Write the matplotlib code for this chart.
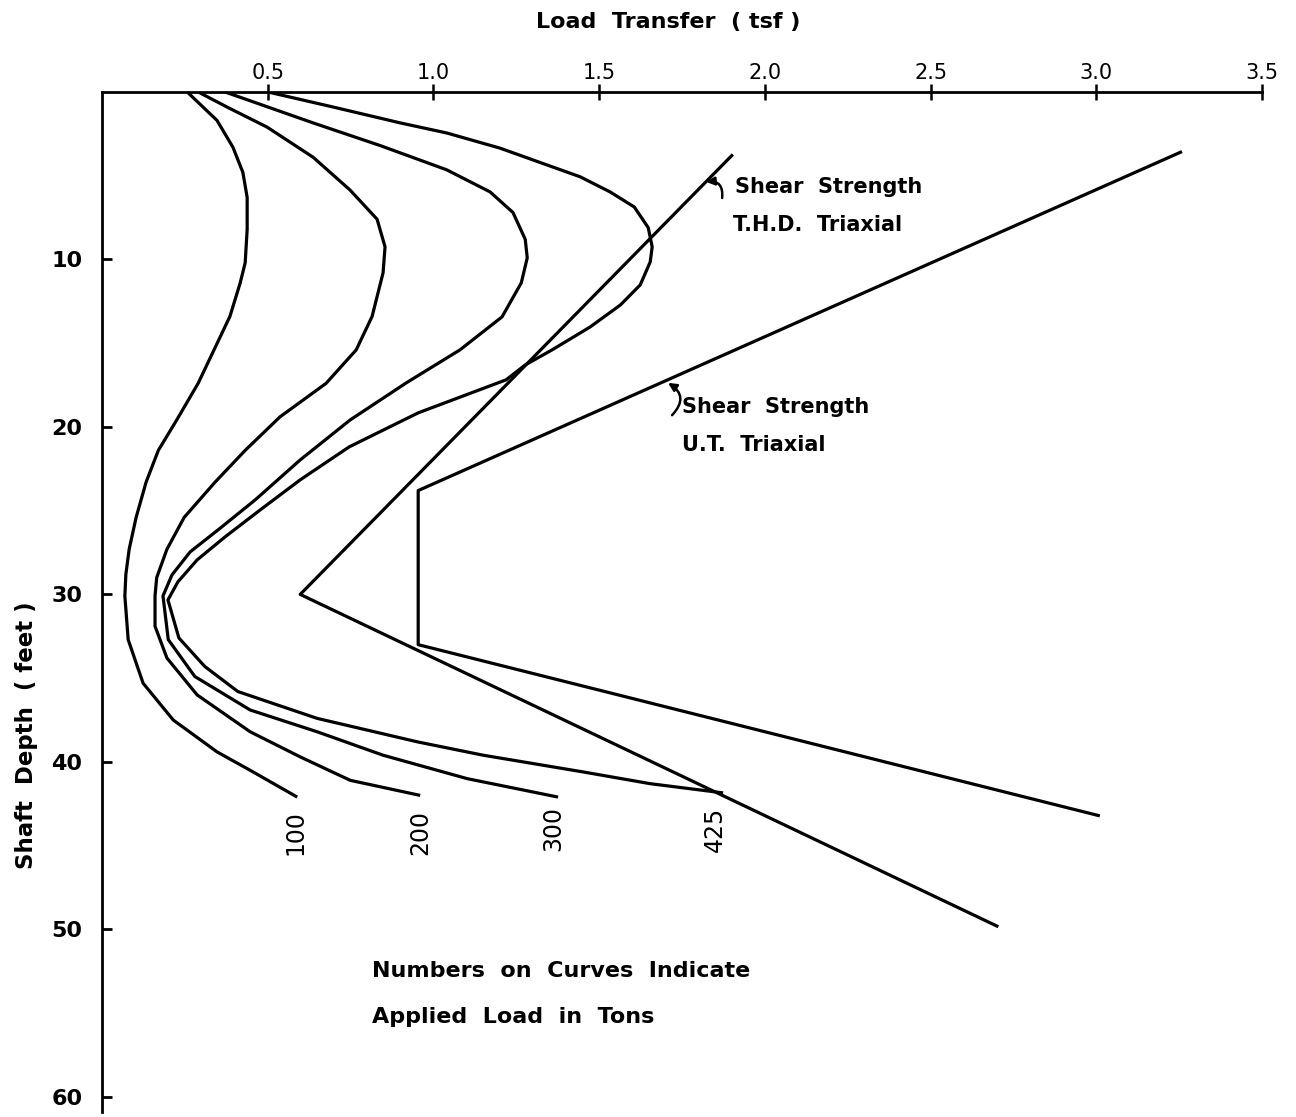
import matplotlib
matplotlib.use("Agg")
import matplotlib.pyplot as plt

# load transfer (tsf) vs shaft depth (ft) for each applied load
t_100 = [0.257, 0.347, 0.395, 0.425, 0.438, 0.438, 0.432, 0.417, 0.386, 0.29, 0.225, 0.17,
         0.133, 0.103, 0.082, 0.072, 0.069, 0.079, 0.124, 0.215, 0.347, 0.447, 0.589]
d_100 = [0, 1.7, 3.3, 4.8, 6.3, 8.2, 10.2, 11.4, 13.4, 17.4, 19.6, 21.4,
         23.3, 25.4, 27.3, 28.8, 30.1, 32.7, 35.3, 37.5, 39.4, 40.5, 42.1]

t_200 = [0.29, 0.377, 0.498, 0.637, 0.748, 0.83, 0.854, 0.848, 0.815, 0.767, 0.676, 0.537,
         0.432, 0.341, 0.248, 0.196, 0.165, 0.16, 0.16, 0.196, 0.287, 0.447, 0.598, 0.749, 0.96]
d_200 = [0, 0.9, 2.1, 3.9, 5.85, 7.6, 9.25, 10.8, 13.4, 15.4, 17.4, 19.4,
         21.4, 23.3, 25.4, 27.3, 29.0, 30.1, 31.9, 33.8, 36.0, 38.2, 39.7, 41.1, 42.0]

t_300 = [0.371, 0.637, 0.839, 1.04, 1.171, 1.24, 1.277, 1.283, 1.265, 1.207, 1.08, 0.918,
         0.749, 0.598, 0.462, 0.35, 0.266, 0.211, 0.184, 0.20, 0.28, 0.447, 0.649, 0.848,
         1.102, 1.376]
d_300 = [0, 1.85, 3.2, 4.65, 5.97, 7.2, 8.8, 9.91, 11.4, 13.43, 15.4, 17.37,
         19.58, 21.97, 24.36, 26.15, 27.46, 28.84, 30.09, 32.7, 34.9, 36.9, 38.2, 39.6,
         41.0, 42.1]

t_425 = [0.50, 0.697, 0.90, 1.04, 1.20, 1.443, 1.533, 1.606, 1.648, 1.66, 1.654, 1.624,
         1.564, 1.473, 1.358, 1.277, 1.219, 0.954, 0.746, 0.598, 0.477, 0.371, 0.287,
         0.229, 0.199, 0.232, 0.31, 0.41, 0.649, 0.951, 1.15, 1.452, 1.654, 1.874]
d_425 = [0, 0.9, 1.85, 2.45, 3.35, 5.07, 5.97, 6.87, 8.1, 9.25, 10.15, 11.52,
         12.72, 14.03, 15.4, 16.3, 17.19, 19.16, 21.19, 23.16, 24.96, 26.57, 27.94,
         29.25, 30.33, 32.6, 34.3, 35.8, 37.4, 38.8, 39.6, 40.6, 41.3, 41.85]

loads = ["100", "200", "300", "425"]
label_t = [0.583, 0.96, 1.362, 1.85]
label_d = [44.2, 44.2, 44.0, 44.0]

# shear strength envelopes
thd_t = [1.90, 0.598, 2.70]
thd_d = [3.8, 30.0, 49.8]
ut_t = [3.254, 0.954, 0.954, 3.006]
ut_d = [3.6, 23.8, 33.0, 43.2]

xticks = [0.5, 1.0, 1.5, 2.0, 2.5, 3.0, 3.5]
yticks = [10, 20, 30, 40, 50, 60]

fig = plt.figure(figsize=(12.96, 11.17), dpi=100)
ax = fig.add_axes([0.0787, 0.0045, 0.8951, 0.9132])

lw = 2.3
for t, d in [(t_100, d_100), (t_200, d_200), (t_300, d_300), (t_425, d_425)]:
    ax.plot(t, d, color='black', lw=lw, solid_joinstyle='round', solid_capstyle='butt')
ax.plot(thd_t, thd_d, color='black', lw=lw)
ax.plot(ut_t, ut_d, color='black', lw=lw)

for name, x, y in zip(loads, label_t, label_d):
    ax.text(x, y, name, rotation=90, ha='center', va='center', fontsize=17)

ax.set_xlim(0, 3.5)
ax.set_ylim(60.9, 0)
ax.xaxis.tick_top()
ax.set_xticks(xticks)
ax.set_xticklabels(['%.1f' % v for v in xticks])
ax.set_yticks(yticks)
for s in ['bottom', 'right']:
    ax.spines[s].set_visible(False)
for s in ['top', 'left']:
    ax.spines[s].set_linewidth(2)
ax.tick_params(axis='x', direction='inout', length=11, width=1.8, pad=1, labelsize=15)
ax.tick_params(axis='y', direction='in', length=7, width=2, pad=14, labelsize=16)
for lbl in ax.get_yticklabels():
    lbl.set_fontweight('bold')

fig.text(668 / 1296, 1 - 22 / 1117, 'Load  Transfer  ( tsf )', ha='center', va='center',
         fontsize=16, fontweight='bold')
fig.text(27 / 1296, 1 - 735 / 1117, 'Shaft  Depth  ( feet )', ha='center', va='center',
         rotation=90, fontsize=16.5, fontweight='bold')

# shear strength labels with small curly pointers
ax.text(1.911, 5.67, 'Shear  Strength', fontsize=15, fontweight='bold', va='center')
ax.text(1.905, 7.94, 'T.H.D.  Triaxial', fontsize=15, fontweight='bold', va='center')
ax.annotate('', xy=(1.823, 5.37), xytext=(1.871, 6.33),
            arrowprops=dict(arrowstyle='-|>', color='black', lw=1.8, mutation_scale=12,
                            connectionstyle='arc3,rad=0.6', shrinkA=0, shrinkB=0))
ax.text(1.751, 18.8, 'Shear  Strength', fontsize=15, fontweight='bold', va='center')
ax.text(1.751, 21.1, 'U.T.  Triaxial', fontsize=15, fontweight='bold', va='center')
ax.annotate('', xy=(1.708, 17.37), xytext=(1.72, 19.3),
            arrowprops=dict(arrowstyle='-|>', color='black', lw=1.8, mutation_scale=12,
                            connectionstyle='arc3,rad=0.6', shrinkA=0, shrinkB=0))

ax.text(0.815, 52.5, 'Numbers  on  Curves  Indicate', fontsize=16, fontweight='bold',
        va='center')
ax.text(0.815, 55.2, 'Applied  Load  in  Tons', fontsize=16, fontweight='bold', va='center')

fig.savefig('out.png', dpi=100)
